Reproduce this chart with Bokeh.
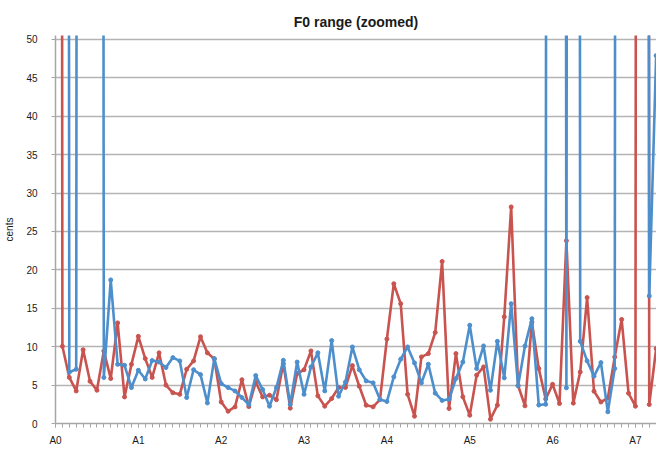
from bokeh.plotting import figure
from bokeh.models import FixedTicker, Range1d, ColumnDataSource
from bokeh.embed import file_html
from bokeh.resources import INLINE

# Values above the 50-cent window (drawn off the top of the zoomed view)
HUGE = 1000.0

# Semitone index from A0 (0) upward
semitone = list(range(88))

octave_ticks = [0, 12, 24, 36, 48, 60, 72, 84]
octave_labels = ["A0", "A1", "A2", "A3", "A4", "A5", "A6", "A7"]
cents_ticks = [0, 5, 10, 15, 20, 25, 30, 35, 40, 45, 50]

red_series = [
    HUGE, 10.05, 6.0, 4.24, 9.6, 5.5, 4.33, 9.45, 5.85, 13.1,
    3.46, 7.7, 11.35, 8.45, 6.0, 9.2, 5.0, 4.0, 3.8, 7.06,
    8.15, 11.3, 9.2, 8.4, 2.8, 1.6, 2.16, 5.7, 2.2, 5.4,
    3.46, 3.68, 3.1, 7.8, 2.0, 6.5, 7.0, 9.45, 3.6, 2.25,
    3.25, 4.68, 4.7, 7.54, 4.85, 2.38, 2.17, 3.12, 11.0, 18.2,
    15.6, 3.8, 0.95, 8.67, 9.1, 11.85, 21.1, 1.95, 9.1, 3.47,
    1.08, 6.29, 7.37, 0.56, 2.38, 13.9, 28.2, 4.95, 2.3, 13.2,
    7.15, 3.2, 5.1, 2.6, 23.8, 2.65, 6.7, 16.4, 4.2, 2.8,
    3.3, 8.65, 13.55, 3.94, 2.25, HUGE, 2.47, 9.75,
]

blue_series = [
    HUGE, HUGE, 6.67, 7.06, HUGE, HUGE, HUGE, 5.98, 18.7, 7.7,
    7.58, 4.68, 6.93, 5.8, 8.2, 8.0, 7.28, 8.58, 8.15, 3.38,
    7.0, 6.37, 2.68, 8.45, 5.2, 4.68, 4.24, 3.38, 2.45, 6.24,
    4.42, 2.25, 4.68, 8.23, 2.47, 8.0, 3.8, 7.36, 9.2, 4.24,
    10.8, 3.55, 5.4, 9.97, 7.0, 5.55, 5.29, 3.12, 2.86, 6.07,
    8.37, 9.97, 7.89, 5.29, 7.72, 3.95, 3.0, 3.16, 5.85, 8.0,
    12.8, 7.15, 10.1, 4.33, 10.7, 5.94, 15.6, 4.9, 10.1, 13.65,
    2.4, 2.5, HUGE, HUGE, 4.64, HUGE, 10.7, 8.15, 6.16, 7.93,
    1.52, 7.15, HUGE, HUGE, HUGE, HUGE, 16.6, 47.9,
]

RED = "#c9534f"
BLUE = "#4d8fcd"
GRID = "#b4b4b4"
AXIS = "#a6a6a6"

source = ColumnDataSource(dict(x=semitone, red=red_series, blue=blue_series))

p = figure(
    width=656, height=450,
    output_backend="svg", toolbar_location=None,
    x_range=Range1d(0, 87.05), y_range=Range1d(0, 50.52),
    min_border_left=55, min_border_right=0, min_border_top=35, min_border_bottom=27,
    title="F0 range (zoomed)",
)

p.title.align = "center"
p.title.vertical_align = "middle"
p.title.text_font = "Liberation Sans"
p.title.text_font_size = "14px"
p.title.text_font_style = "bold"
p.title.text_color = "#1a1a1a"

p.outline_line_color = None
p.background_fill_color = "white"
p.border_fill_color = "white"

p.xgrid.visible = False
p.ygrid.ticker = FixedTicker(ticks=cents_ticks)
p.ygrid.grid_line_color = GRID
p.ygrid.grid_line_width = 1.5

p.xaxis.ticker = FixedTicker(ticks=octave_ticks, minor_ticks=semitone)
p.xaxis.major_label_overrides = {t: lab for t, lab in zip(octave_ticks, octave_labels)}
p.yaxis.ticker = FixedTicker(ticks=cents_ticks, minor_ticks=[])

for ax in (p.xaxis[0], p.yaxis[0]):
    ax.axis_line_color = AXIS
    ax.axis_line_width = 1.5
    ax.major_tick_line_color = AXIS
    ax.major_tick_line_width = 1
    ax.major_tick_in = 0
    ax.major_tick_out = 4
    ax.minor_tick_line_color = AXIS
    ax.minor_tick_in = 0
    ax.minor_tick_out = 4
    ax.major_label_text_font = "Liberation Sans"
    ax.major_label_text_font_size = "10px"
    ax.major_label_text_color = "#1a1a1a"

p.yaxis.minor_tick_line_color = None
p.xaxis.major_label_standoff = 7
p.yaxis.major_label_standoff = 14
p.yaxis.axis_label = "cents"
p.yaxis.axis_label_text_font = "Liberation Sans"
p.yaxis.axis_label_text_font_size = "10px"
p.yaxis.axis_label_text_font_style = "normal"
p.yaxis.axis_label_text_color = "#1a1a1a"
p.yaxis.axis_label_standoff = 8

p.line("x", "red", source=source, line_color=RED, line_width=2.6, line_join="round")
p.scatter("x", "red", source=source, size=4, fill_color=RED, line_color=RED)
p.line("x", "blue", source=source, line_color=BLUE, line_width=2.6, line_join="round")
p.scatter("x", "blue", source=source, size=4, fill_color=BLUE, line_color=BLUE)

open("out.html", "w").write(file_html(p, INLINE))
